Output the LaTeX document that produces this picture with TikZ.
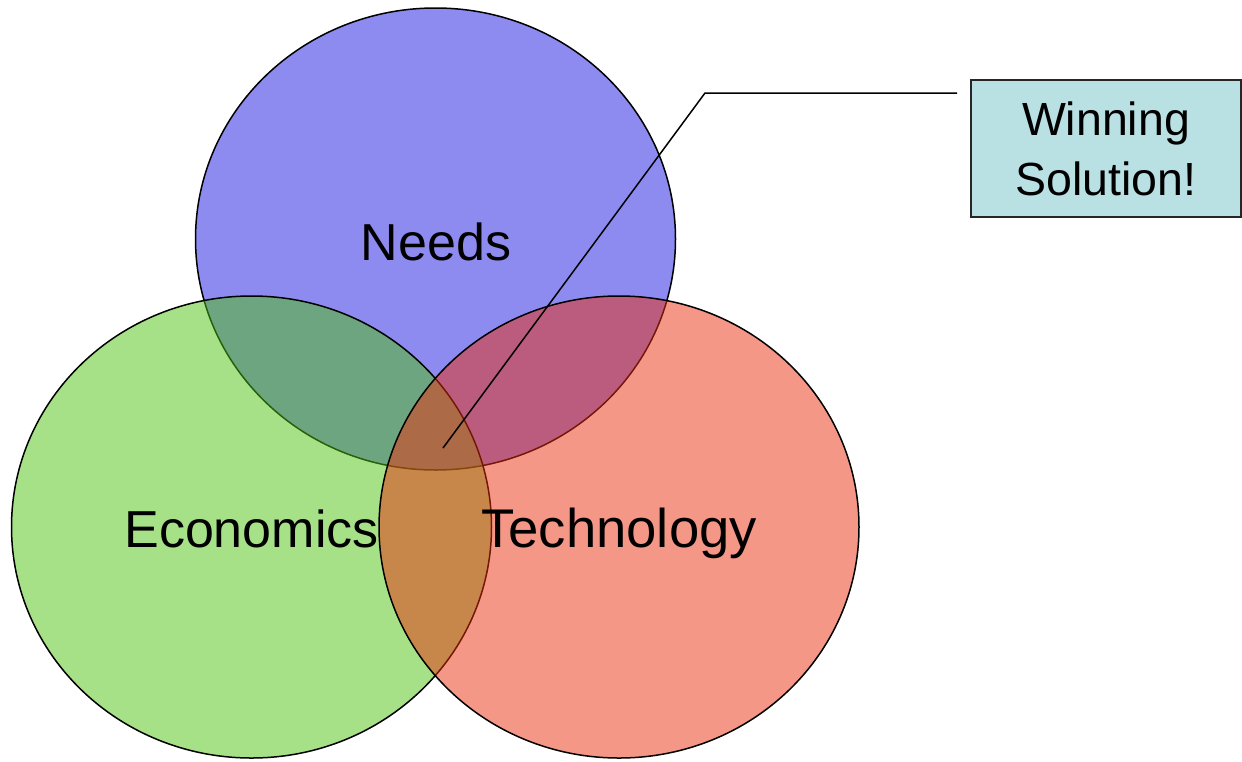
\documentclass[tikz,border=0pt]{standalone}
\usepackage{fontspec}
\setmainfont{Liberation Sans}
\definecolor{needsbase}{RGB}{27,23,225}
\definecolor{econbase}{RGB}{77,193,15}
\definecolor{techbase}{RGB}{235,47,15}
\definecolor{boxfill}{RGB}{185,224,227}
\begin{document}
\begin{tikzpicture}[x=1pt,y=-1pt,
  venn/.style={fill opacity=0.5, draw opacity=1, line width=1.5pt, draw=black},
  lbl/.style={font=\fontsize{52}{60}\selectfont, anchor=base, inner sep=0pt},
  callout/.style={draw=black, line width=1.5pt}]
\useasboundingbox (0,0) rectangle (1242,761);
\coordinate (cn) at (435.5,239);
\coordinate (ce) at (251.5,527);
\coordinate (ct) at (619,527);
\filldraw[venn, fill=needsbase] (cn) ellipse [x radius=240pt, y radius=231pt];
\filldraw[venn, fill=econbase] (ce) ellipse [x radius=240pt, y radius=231pt];
\filldraw[venn, fill=techbase] (ct) ellipse [x radius=240pt, y radius=231pt];
\node[lbl] (needs) at (436,260) {Needs};
\node[lbl] (econ) at (251.5,547) {Economics};
\node[lbl, font=\fontsize{54.5}{60}\selectfont] (tech) at (619,547) {Technology};
\node[draw=black!85, line width=1.5pt, fill=boxfill, minimum width=270pt, minimum height=137pt,
  inner sep=0pt, align=center, font=\fontsize{46.5}{60}\selectfont] (win) at (1106,148.5) {Winning\\Solution!};
\coordinate (tip) at (443,448);
\coordinate (knee) at (705,93);
\coordinate (lend) at (957,93);
\draw[callout] (tip) -- (knee) -- (lend);
\end{tikzpicture}
\end{document}
